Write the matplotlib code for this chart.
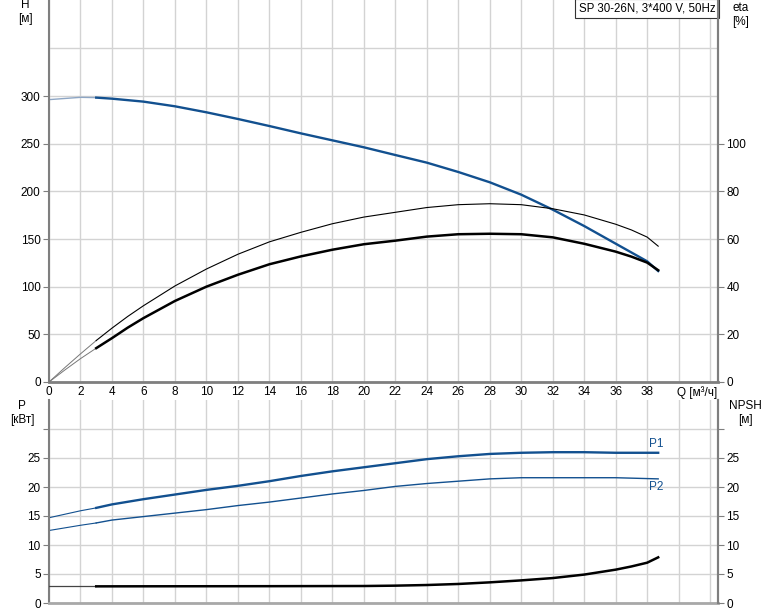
import numpy as np
import matplotlib
matplotlib.use("Agg")
import matplotlib.pyplot as plt

plt.rcParams['font.family'] = ['Liberation Sans', 'DejaVu Sans']

# --- data ---
q_h = [0, 2, 3, 4, 6, 8, 10, 12, 14, 16, 18, 20, 22, 24, 26, 28, 30, 32, 34, 36, 38, 38.7]
head = [296.2, 298.6, 298.3, 297.2, 294.1, 289.2, 282.9, 275.9, 268.5, 260.8, 253.5, 246.2,
        238.1, 230.1, 220.3, 209.5, 196.5, 180.8, 163.6, 145.1, 126.6, 116.4]

q_eta = [0, 1, 2, 3, 4, 5, 6, 8, 10, 12, 14, 16, 18, 20, 22, 24, 26, 28, 30, 32, 34, 36, 37, 38, 38.7]
eta_thin = [0, 6.0, 11.8, 17.4, 22.6, 27.5, 32.0, 40.3, 47.4, 53.6, 58.8, 62.8, 66.4, 69.2,
            71.2, 73.2, 74.4, 74.8, 74.4, 72.7, 70.1, 66.2, 63.8, 60.8, 57.0]
eta_thick = [0, 5.0, 9.8, 14.2, 18.4, 22.8, 26.8, 34.0, 40.0, 45.0, 49.4, 52.7, 55.5, 57.8,
             59.3, 61.0, 62.0, 62.2, 62.0, 60.7, 58.0, 54.7, 52.6, 50.1, 46.9]

q_p = [0, 2, 3, 4, 6, 8, 10, 12, 14, 16, 18, 20, 22, 24, 26, 28, 30, 32, 34, 36, 38.7]
p1 = [14.7, 15.9, 16.4, 17.0, 17.9, 18.7, 19.5, 20.2, 21.0, 21.9, 22.7, 23.4,
      24.1, 24.8, 25.3, 25.7, 25.9, 26.0, 26.0, 25.9, 25.9]
p2 = [12.5, 13.4, 13.8, 14.3, 14.9, 15.5, 16.1, 16.8, 17.4, 18.1, 18.8, 19.4,
      20.1, 20.6, 21.0, 21.4, 21.6, 21.6, 21.6, 21.6, 21.4]

q_npsh = [0, 3, 6, 10, 14, 18, 20, 22, 24, 26, 28, 30, 32, 34, 36, 37, 38, 38.7]
npsh = [2.87, 2.87, 2.88, 2.89, 2.9, 2.92, 2.93, 2.99, 3.10, 3.28, 3.56, 3.9,
        4.3, 4.9, 5.75, 6.3, 6.95, 7.87]

title_text = "SP 30-26N, 3*400 V, 50Hz"

blue = "#12508f"
grid_c = "#d3d3d3"
spine_c = "#7f7f7f"
fs = 8.5
q_start = 3  # curves are drawn thin below this flow


def split(q, v):
    q = np.array(q, dtype=float)
    v = np.array(v, dtype=float)
    lo = q <= q_start
    hi = q >= q_start
    return q[lo], v[lo], q[hi], v[hi]


def style_side(a, side):
    a.spines[side].set_color(spine_c)
    a.spines[side].set_linewidth(1.5)


fig = plt.figure(figsize=(7.74, 6.11), dpi=100)
W, H = 774, 611
x0, x1 = 49, 718

# ---------------- top: H / eta ----------------
ax = fig.add_axes([x0 / W, 1 - 382 / H, (x1 - x0) / W, 382 / H])
ax.set_xlim(0, 42.5)
ax.set_ylim(0, 400.7)
ax.set_xticks(np.arange(0, 43, 2))
ax.set_xticklabels([str(v) if v <= 38 else "" for v in range(0, 43, 2)])
ax.set_yticks(np.arange(0, 301, 50))
ax.axhline(350, color=grid_c, lw=1.0, zorder=0)
ax.grid(True, color=grid_c, lw=1.0)
ax.set_axisbelow(True)
ax.spines["top"].set_visible(False)
style_side(ax, "left")
style_side(ax, "right")
ax.spines["bottom"].set_color(spine_c)
ax.spines["bottom"].set_linewidth(2)
ax.tick_params(axis="y", direction="out", length=4, color=spine_c, labelsize=fs, pad=2)
ax.tick_params(axis="x", length=0, labelsize=fs, pad=3)
ax.text(39.9, -4, "Q [м³/ч]", fontsize=fs, ha="left", va="top")

ql, hl, qh, hh = split(q_h, head)
ax.plot(ql, hl, color="#8ea6c4", lw=1.0)
ax.plot(qh, hh, color=blue, lw=1.7)

ax2 = ax.twinx()
ax2.set_ylim(0, 400.7 * 0.4)
ax2.set_yticks(np.arange(0, 101, 20))
for s in ["top", "left", "bottom"]:
    ax2.spines[s].set_visible(False)
style_side(ax2, "right")
ax2.tick_params(axis="y", direction="out", length=4, color=spine_c, labelsize=fs, pad=2)

ql, el, qh, eh = split(q_eta, eta_thin)
ax2.plot(ql, el, color="#777777", lw=0.7)
ax2.plot(qh, eh, color="black", lw=0.8)
ql, el, qh, eh = split(q_eta, eta_thick)
ax2.plot(ql, el, color="#777777", lw=0.7)
ax2.plot(qh, eh, color="black", lw=1.8)

fig.text(25 / W, 1 - 12 / H, "H\n[м]", fontsize=fs, ha="center", va="center", linespacing=1.3)
fig.text(741 / W, 1 - 15 / H, "eta\n[%]", fontsize=fs, ha="center", va="center", linespacing=1.3)
ax.text(0.996, 0.994, title_text, transform=ax.transAxes, fontsize=8.3, ha="right", va="top",
        bbox=dict(boxstyle="square,pad=0.3", fc="white", ec="#333333", lw=0.8), zorder=10)

# ---------------- bottom: P / NPSH ----------------
bx = fig.add_axes([x0 / W, 8 / H, (x1 - x0) / W, 203 / H])
bx.set_xlim(0, 42.5)
bx.set_ylim(0, 35)
bx.set_xticks(np.arange(0, 43, 2))
bx.set_xticklabels([])
bx.set_yticks(np.arange(0, 31, 5))
bx.set_yticklabels([str(v) if v <= 25 else "" for v in range(0, 31, 5)])
bx.grid(True, color=grid_c, lw=1.0)
bx.set_axisbelow(True)
bx.spines["top"].set_visible(False)
style_side(bx, "left")
style_side(bx, "right")
bx.spines["bottom"].set_color("#a8a8a8")
bx.spines["bottom"].set_linewidth(2)
bx.tick_params(axis="y", direction="out", length=4, color=spine_c, labelsize=fs, pad=2)
bx.tick_params(axis="x", length=0)

bx2 = bx.twinx()
bx2.set_ylim(0, 35)
bx2.set_yticks(np.arange(0, 31, 5))
bx2.set_yticklabels([str(v) if v <= 25 else "" for v in range(0, 31, 5)])
for s in ["top", "left", "bottom"]:
    bx2.spines[s].set_visible(False)
style_side(bx2, "right")
bx2.tick_params(axis="y", direction="out", length=4, color=spine_c, labelsize=fs, pad=2)

ql, pl, qh, ph = split(q_p, p1)
bx.plot(ql, pl, color=blue, lw=0.8)
bx.plot(qh, ph, color=blue, lw=1.7)
ql, pl, qh, ph = split(q_p, p2)
bx.plot(ql, pl, color=blue, lw=0.8)
bx.plot(qh, ph, color=blue, lw=1.0)
bx.text(q_p[-1] - 0.6, p1[-1] + 0.5, "P1", color=blue, fontsize=fs, ha="left", va="bottom")
bx.text(q_p[-1] - 0.6, p2[-1] - 0.4, "P2", color=blue, fontsize=fs, ha="left", va="top")

ql, nl, qh, nh = split(q_npsh, npsh)
bx2.plot(ql, nl, color="#444444", lw=0.9)
bx2.plot(qh, nh, color="black", lw=1.8)

fig.text(22 / W, 1 - 413 / H, "P\n[кВт]", fontsize=fs, ha="center", va="center", linespacing=1.3)
fig.text(745 / W, 1 - 413 / H, "NPSH\n[м]", fontsize=fs, ha="center", va="center", linespacing=1.3)

fig.savefig("out.png", dpi=100)
